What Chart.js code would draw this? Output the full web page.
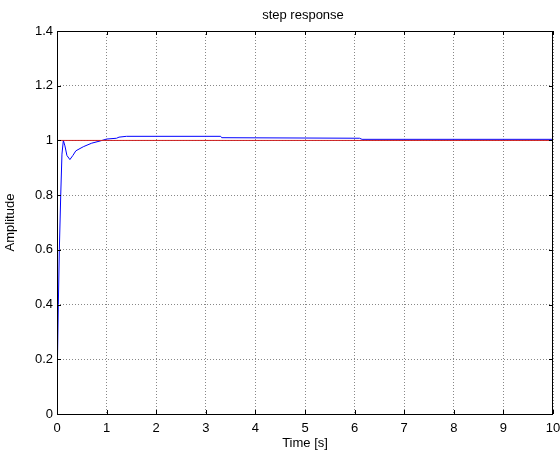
<!DOCTYPE html>
<html>
<head>
<meta charset="utf-8">
<script src="https://cdn.jsdelivr.net/npm/chart.js@4.4.1/dist/chart.umd.min.js"></script>
<style>
  html, body { margin: 0; padding: 0; background: #fff; }
  #wrap { width: 560px; height: 459px; }
</style>
</head>
<body>
<div id="wrap"><canvas id="stepChart"></canvas></div>
<script>
// step response samples
const timeS = [0, 0.01, 0.027, 0.047, 0.075, 0.1, 0.128, 0.16, 0.2, 0.26, 0.32, 0.38, 0.53, 0.7, 0.87, 1.0, 1.2, 1.25, 1.4, 3.3, 3.32, 6.1, 6.15, 10];
const amplitude = [0, 0.2, 0.4, 0.6, 0.8, 0.95, 1.0, 0.98, 0.945, 0.93, 0.945, 0.962, 0.977, 0.99, 0.998, 1.005, 1.008, 1.012, 1.015, 1.015, 1.01, 1.008, 1.004, 1.004];
// reference (setpoint)
const refTime = [0, 10];
const refValue = [1, 1];
const xTicks = [0, 1, 2, 3, 4, 5, 6, 7, 8, 9, 10];
const yTicks = [0, 0.2, 0.4, 0.6, 0.8, 1, 1.2, 1.4];

const font = { family: "'Liberation Sans', Arial, sans-serif", size: 13 };

// MATLAB style: inward ticks on all four sides + title
const matlabFrame = {
    id: 'matlabFrame',
    afterDraw(chart) {
        const { ctx, chartArea: a, scales } = chart;
        ctx.save();
        ctx.strokeStyle = '#000';
        ctx.lineWidth = 1;
        ctx.beginPath();
        xTicks.forEach(v => {
            const x = Math.round(scales.x.getPixelForValue(v)) + 0.5;
            ctx.moveTo(x, a.bottom); ctx.lineTo(x, a.bottom - 4);
            ctx.moveTo(x, a.top); ctx.lineTo(x, a.top + 4);
        });
        yTicks.forEach(v => {
            const y = Math.round(scales.y.getPixelForValue(v)) + 0.5;
            ctx.moveTo(a.left, y); ctx.lineTo(a.left + 4, y);
            ctx.moveTo(a.right, y); ctx.lineTo(a.right - 4, y);
        });
        ctx.stroke();
        ctx.strokeRect(a.left + 0.5, a.top + 0.5, a.right - a.left - 1, a.bottom - a.top);
        ctx.fillStyle = '#000';
        ctx.font = `${font.size}px ${font.family}`;
        ctx.textAlign = 'center';
        ctx.textBaseline = 'middle';
        ctx.fillText('step response', (a.left + a.right) / 2 - 2, 15);
        ctx.restore();
    }
};

new Chart(document.getElementById('stepChart'), {
    type: 'line',
    data: {
        datasets: [
            {
                data: refTime.map((t, i) => ({ x: t, y: refValue[i] })),
                borderColor: 'rgb(205, 30, 30)',
                borderWidth: 1,
                pointRadius: 0
            },
            {
                data: timeS.map((t, i) => ({ x: t, y: amplitude[i] })),
                borderColor: '#0000ff',
                borderWidth: 1,
                pointRadius: 0,
                tension: 0
            }
        ]
    },
    options: {
        responsive: true,
        maintainAspectRatio: false,
        animation: false,
        layout: { padding: { top: 31, right: 7, left: 0, bottom: 0 } },
        plugins: { legend: { display: false }, tooltip: { enabled: false } },
        scales: {
            x: {
                type: 'linear',
                min: 0, max: 10,
                afterBuildTicks: s => { s.ticks = xTicks.map(v => ({ value: v })); },
                afterFit: s => { s.height = 45; s.paddingLeft = 0; s.paddingRight = 0; },
                grid: { color: '#888', tickLength: 0, drawTicks: false },
                border: { display: false, dash: [1, 2] },
                ticks: { color: '#000', font, padding: 7, maxRotation: 0 },
                title: { display: true, text: 'Time [s]', color: '#000', font, padding: { top: 0, bottom: 8 } }
            },
            y: {
                type: 'linear',
                min: 0, max: 1.4,
                afterBuildTicks: s => { s.ticks = yTicks.map(v => ({ value: v })); },
                afterFit: s => { s.width = 57; s.paddingTop = 0; s.paddingBottom = 0; },
                grid: { color: '#888', tickLength: 0, drawTicks: false },
                border: { display: false, dash: [1, 2] },
                ticks: { color: '#000', font, padding: 4, callback: v => String(Math.round(v * 10) / 10) },
                title: { display: true, text: 'Amplitude', color: '#000', font, padding: { top: 3, bottom: 0 } }
            }
        }
    },
    plugins: [matlabFrame]
});
</script>
</body>
</html>
